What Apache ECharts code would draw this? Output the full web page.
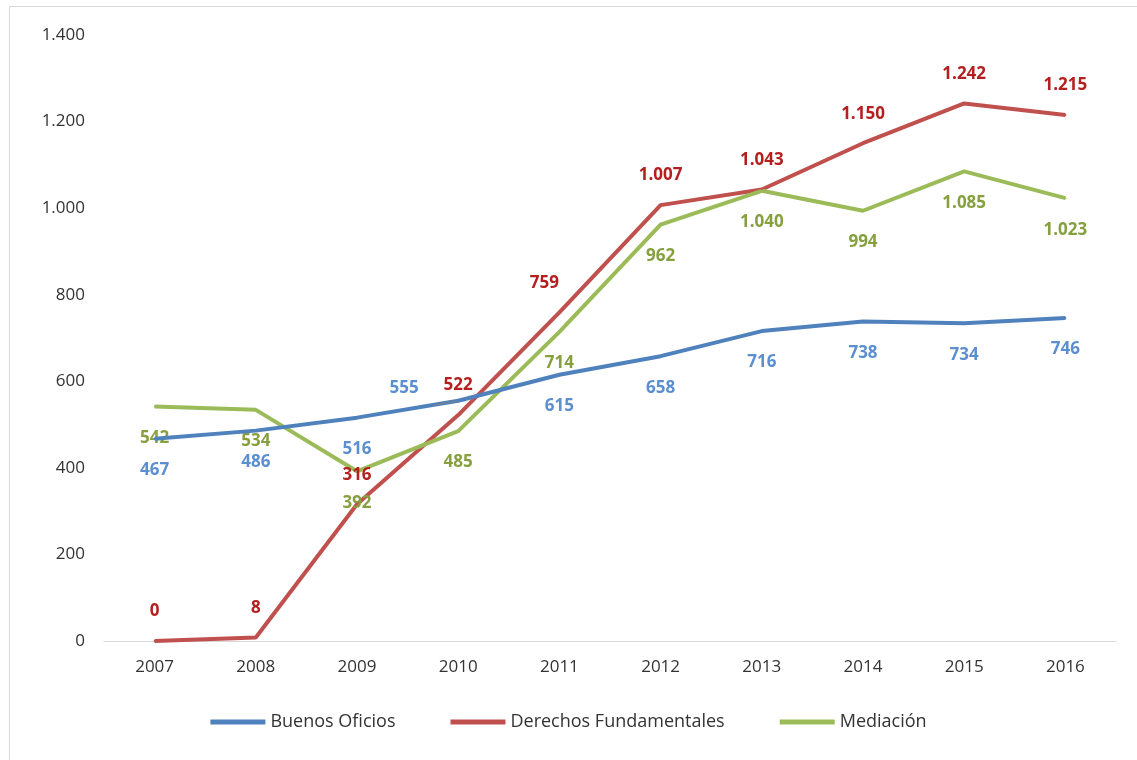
<!DOCTYPE html>
<html>
<head>
<meta charset="utf-8">
<script src="https://cdn.jsdelivr.net/npm/echarts@6/dist/echarts.min.js"></script>
<style>
  html, body { margin: 0; padding: 0; background: #fff; }
  #main { width: 1137px; height: 760px; }
</style>
</head>
<body>
<div id="main"></div>
<script>
const years = ['2007', '2008', '2009', '2010', '2011', '2012', '2013', '2014', '2015', '2016']
const buenosOficios = [467, 486, 516, 555, 615, 658, 716, 738, 734, 746]
const derechos = [0, 8, 316, 522, 759, 1007, 1043, 1150, 1242, 1215]
const mediacion = [542, 534, 392, 485, 714, 962, 1040, 994, 1085, 1023]

const font = '"Open Sans", "Noto Sans", sans-serif'

// miles con punto
function fmt(v) {
  return String(v).replace(/\B(?=(\d{3})+(?!\d))/g, '.')
}

const chart = echarts.init(document.getElementById('main'))

// la etiqueta de 2010 (Buenos Oficios) va arriba a la izquierda, con guía
const blueData = buenosOficios.map((v, i) => {
  if (i !== 3) return v
  return {
    value: v,
    label: { position: 'top', offset: [-54, 19] },
    labelLine: { show: true, lineStyle: { color: '#7f7f7f', width: 1 } }
  }
})

// 2011 (Derechos) un poco a la izquierda
const redData = derechos.map((v, i) => {
  if (i !== 4) return v
  return { value: v, label: { offset: [-15, 0] } }
})

function labelOf(color, pos, dist) {
  return {
    show: true, position: pos, distance: dist,
    fontFamily: font, fontSize: 17, fontWeight: 'bold', color: color,
    formatter: p => fmt(p.value)
  }
}

const option = {
  animation: false,
  graphic: [{
    type: 'rect',
    shape: { x: 9.5, y: 6.5, width: 1140, height: 760 },
    style: { fill: 'none', stroke: '#d9d9d9', lineWidth: 1 },
    silent: true
  }],
  grid: { left: 104, right: 21, top: 35, bottom: 119 },
  legend: {
    bottom: 24,
    left: 'center',
    itemWidth: 55,
    itemHeight: 5,
    itemGap: 55,
    icon: 'rect',
    textStyle: { fontFamily: font, fontSize: 18, color: '#333333' },
    data: ['Buenos Oficios', 'Derechos Fundamentales', 'Mediación']
  },
  xAxis: {
    type: 'category',
    data: years,
    axisLine: { lineStyle: { color: '#d9d9d9', width: 1 } },
    axisTick: { show: false },
    axisLabel: { fontFamily: font, fontSize: 17, color: '#333333', margin: 18 }
  },
  yAxis: {
    type: 'value',
    min: 0,
    max: 1400,
    interval: 200,
    splitLine: { show: false },
    axisLine: { show: false },
    axisTick: { show: false },
    axisLabel: {
      fontFamily: font, fontSize: 17, color: '#333333', margin: 19,
      formatter: fmt
    }
  },
  series: [{
    name: 'Buenos Oficios',
    type: 'line',
    data: blueData,
    symbol: 'circle',
    symbolSize: 2,
    lineStyle: { color: '#4f81bd', width: 4 },
    itemStyle: { color: '#4f81bd' },
    label: labelOf('#5b8fd0', 'bottom', 22),
    z: 3
  }, {
    name: 'Derechos Fundamentales',
    type: 'line',
    data: redData,
    symbol: 'circle',
    symbolSize: 2,
    lineStyle: { color: '#c0504d', width: 4 },
    itemStyle: { color: '#c0504d' },
    label: labelOf('#b42020', 'top', 20),
    z: 2
  }, {
    name: 'Mediación',
    type: 'line',
    data: mediacion,
    symbol: 'circle',
    symbolSize: 2,
    lineStyle: { color: '#9bbb59', width: 4 },
    itemStyle: { color: '#9bbb59' },
    label: labelOf('#86a040', 'bottom', 22),
    z: 2
  }]
}

chart.setOption(option)
</script>
</body>
</html>
